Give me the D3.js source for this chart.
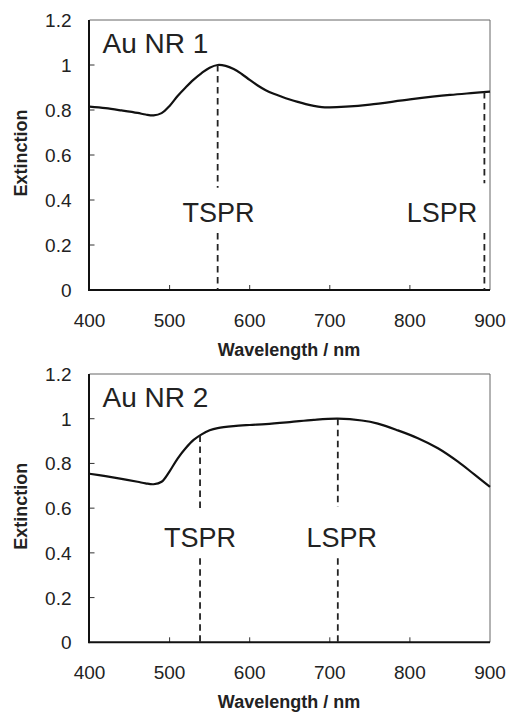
<!DOCTYPE html>
<html><head><meta charset="utf-8">
<script src="https://cdn.jsdelivr.net/npm/d3@7"></script>
<style>body{margin:0;background:#fff}svg{display:block}text{font-family:"Liberation Sans",Arial,sans-serif}</style>
</head><body>
<svg id="c" width="508" height="716"></svg>
<script>
// Data
const wl1 = [400,420,440,460,470,480,490,500,510,520,530,540,550,560,570,580,590,600,610,620,630,640,650,660,670,680,690,700,720,750,800,850,880,900];
const ext1 = [0.815,0.808,0.798,0.787,0.780,0.776,0.786,0.818,0.862,0.9,0.935,0.964,0.988,1.0,0.996,0.982,0.96,0.934,0.909,0.888,0.872,0.859,0.847,0.836,0.826,0.818,0.813,0.812,0.815,0.824,0.847,0.867,0.876,0.882];
const wl2 = [400,420,440,460,470,480,490,500,510,520,530,540,550,560,580,600,620,650,680,710,740,760,785,810,835,860,880,900];
const ext2 = [0.754,0.743,0.731,0.718,0.711,0.707,0.718,0.765,0.822,0.868,0.905,0.93,0.948,0.958,0.967,0.972,0.976,0.985,0.995,1.0,0.992,0.978,0.948,0.913,0.868,0.808,0.752,0.695];
const panelTitles = ["Au NR 1","Au NR 2"];
const peakNames = ["TSPR","LSPR"];
const peaks1 = [560, 893];
const peaks2 = [538, 710];
const xTicks = [400,500,600,700,800,900];
const yTicks = [0,0.2,0.4,0.6,0.8,1,1.2];
const yTickLabels = ["0","0.2","0.4","0.6","0.8","1","1.2"];

const svg = d3.select("#c");
const x = d3.scaleLinear().domain([400,900]).range([89.5,490]);

function panel(top, bottom, wl, ext, title, peaks, dashTop, dashBot, labelX, labelVal) {
  const y = d3.scaleLinear().domain([0,1.2]).range([bottom, top]);
  const g = svg.append("g");
  g.append("line").attr("x1",x(400)).attr("x2",x(900)).attr("y1",y(1.2)).attr("y2",y(1.2)).attr("stroke","#666").attr("stroke-width",1);
  g.append("line").attr("x1",x(900)).attr("x2",x(900)).attr("y1",y(1.2)).attr("y2",y(0)).attr("stroke","#666").attr("stroke-width",1);
  g.selectAll(".xt").data(xTicks.slice(1,-1)).enter().append("line")
    .attr("x1",d=>x(d)).attr("x2",d=>x(d)).attr("y1",y(0)).attr("y2",y(0)-5).attr("stroke","#333").attr("stroke-width",1);
  g.selectAll(".yt").data(yTicks.slice(1,-1)).enter().append("line")
    .attr("x1",x(400)).attr("x2",x(400)+5).attr("y1",d=>y(d)).attr("y2",d=>y(d)).attr("stroke","#333").attr("stroke-width",1);
  g.append("line").attr("x1",x(400)).attr("x2",x(900)).attr("y1",y(0)).attr("y2",y(0)).attr("stroke","#111").attr("stroke-width",2);
  g.append("line").attr("x1",x(400)-0.5).attr("x2",x(400)-0.5).attr("y1",y(1.2)).attr("y2",y(0)+1).attr("stroke","#111").attr("stroke-width",2);
  g.selectAll(".xl").data(xTicks).enter().append("text")
    .attr("x",d=>x(d)).attr("y",y(0)+37).attr("text-anchor","middle").attr("font-size",19).attr("fill","#222").text(d=>d);
  g.selectAll(".yl").data(yTicks).enter().append("text")
    .attr("x",71.5).attr("y",d=>y(d)+7).attr("text-anchor","end").attr("font-size",19).attr("fill","#222").text((d,i)=>yTickLabels[i]);
  g.append("text").attr("x",289).attr("y",y(0)+66).attr("text-anchor","middle").attr("font-size",18).attr("font-weight","bold").attr("fill","#222").text("Wavelength / nm");
  const cy = (y(0)+y(1.2))/2 - 2;
  g.append("text").attr("transform",`translate(26.5,${cy}) rotate(-90)`).attr("text-anchor","middle").attr("font-size",18).attr("font-weight","bold").attr("fill","#222").text("Extinction");
  const pts = wl.map((w,i)=>[w,ext[i]]);
  g.append("path").datum(pts).attr("fill","none").attr("stroke","#111").attr("stroke-width",2.2)
    .attr("d", d3.line().x(d=>x(d[0])).y(d=>y(d[1])).curve(d3.curveCatmullRom.alpha(0.5)));
  const interp = w => { const i = d3.bisector(d=>d).left(wl,w); if(i<=0) return ext[0]; if(i>=wl.length) return ext[ext.length-1]; const t=(w-wl[i-1])/(wl[i]-wl[i-1]); return ext[i-1]+t*(ext[i]-ext[i-1]); };
  peaks.forEach((p,i)=>{
    g.append("line").attr("x1",x(p)).attr("x2",x(p)).attr("y1",y(interp(p))).attr("y2",y(dashTop[i])).attr("stroke","#222").attr("stroke-width",1.8).attr("stroke-dasharray","6.5,4.5");
    g.append("line").attr("x1",x(p)).attr("x2",x(p)).attr("y1",y(dashBot[i])).attr("y2",y(0)).attr("stroke","#222").attr("stroke-width",1.8).attr("stroke-dasharray","6.5,4.5");
    g.append("text").attr("x",x(labelX[i])).attr("y",y(labelVal)).attr("text-anchor","middle").attr("font-size",27).attr("fill","#222").text(peakNames[i]);
  });
  g.append("text").attr("x",102.5).attr("y",y(1.2)+33).attr("font-size",28).attr("fill","#222").text(title);
}

panel(20, 290, wl1, ext1, panelTitles[0], peaks1, [0.455,0.475], [0.253,0.253], [561,840], 0.302);
panel(374, 642.3, wl2, ext2, panelTitles[1], peaks2, [0.583,0.605], [0.376,0.376], [538,715], 0.427);
</script>
</body></html>
